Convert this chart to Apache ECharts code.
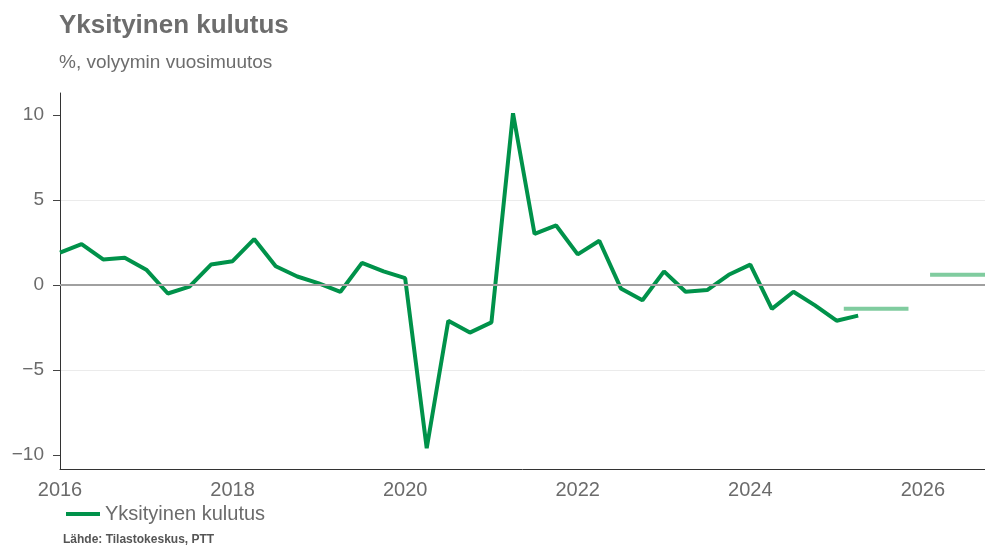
<!DOCTYPE html>
<html>
<head>
<meta charset="utf-8">
<script src="https://cdn.jsdelivr.net/npm/echarts@6/dist/echarts.min.js"></script>
<style>
  html, body { margin: 0; padding: 0; background: #fff; }
  #chart { width: 985px; height: 550px; }
</style>
</head>
<body>
<div id="chart"></div>
<script>
// neljännekset 2016Q1 - 2025Q2
const quarters = [
  '2016Q1', '2016Q2', '2016Q3', '2016Q4',
  '2017Q1', '2017Q2', '2017Q3', '2017Q4',
  '2018Q1', '2018Q2', '2018Q3', '2018Q4',
  '2019Q1', '2019Q2', '2019Q3', '2019Q4',
  '2020Q1', '2020Q2', '2020Q3', '2020Q4',
  '2021Q1', '2021Q2', '2021Q3', '2021Q4',
  '2022Q1', '2022Q2', '2022Q3', '2022Q4',
  '2023Q1', '2023Q2', '2023Q3', '2023Q4',
  '2024Q1', '2024Q2', '2024Q3', '2024Q4',
  '2025Q1', '2025Q2',
];
const consumption = [
  1.9, 2.4, 1.5, 1.6,
  0.9, -0.5, -0.1, 1.2,
  1.4, 2.7, 1.1, 0.5,
  0.1, -0.4, 1.3, 0.8,
  0.4, -9.6, -2.1, -2.8,
  -2.2, 10.1, 3.0, 3.5,
  1.8, 2.6, -0.2, -0.9,
  0.8, -0.4, -0.3, 0.6,
  1.2, -1.4, -0.4, -1.2,
  -2.1, -1.8,
];
// ennusteet (vuositaso)
const forecastStart = ['2025-02', '2026-02'];
const forecastEnd = ['2025-11', '2026-11'];
const forecastValues = [-1.4, 0.6];

const xTicks = [2016, 2018, 2020, 2022, 2024, 2026];
const yTicks = [-10, -5, 0, 5, 10];

const FONT = 'Liberation Sans, Arial, sans-serif';

function quarterToYear(q) {
  return Number(q.slice(0, 4)) + (Number(q.slice(5)) - 1) / 4;
}
function monthToYear(m) {
  return Number(m.slice(0, 4)) + (Number(m.slice(5)) - 1) / 12;
}

const mainData = quarters.map((q, i) => [quarterToYear(q), consumption[i]]);
const forecastData = [];
forecastValues.forEach((v, i) => {
  forecastData.push([monthToYear(forecastStart[i]), v]);
  forecastData.push([monthToYear(forecastEnd[i]), v]);
  forecastData.push([monthToYear(forecastEnd[i]), null]);
});

const chart = echarts.init(document.getElementById('chart'));
chart.setOption({
  animation: false,
  textStyle: { fontFamily: FONT },
  title: {
    text: 'Yksityinen kulutus',
    subtext: '%, volyymin vuosimuutos',
    left: 59,
    top: 13,
    padding: 0,
    itemGap: 14,
    textStyle: { fontSize: 26, fontWeight: 'bold', color: '#6d6d6d', fontFamily: FONT, lineHeight: 26 },
    subtextStyle: { fontSize: 19, color: '#6d6d6d', fontFamily: FONT, lineHeight: 19 },
  },
  legend: {
    data: ['Yksityinen kulutus'],
    left: 66,
    top: 504,
    padding: 0,
    icon: 'rect',
    itemWidth: 34,
    itemHeight: 4,
    textStyle: { fontSize: 20, color: '#6b6b6b', fontFamily: FONT },
  },
  graphic: [{
    type: 'text',
    left: 63,
    top: 534,
    style: {
      text: 'Lähde: Tilastokeskus, PTT',
      font: 'bold 12px ' + FONT,
      fill: '#555555',
    },
  }],
  grid: {
    left: 60,
    right: 0,
    top: 93,
    bottom: 81,
    containLabel: false,
  },
  xAxis: {
    type: 'value',
    min: 2016,
    max: 2026.72,
    interval: 2,
    axisLine: { show: true, onZero: false, lineStyle: { color: '#333', width: 1 } },
    axisTick: { show: false },
    splitLine: { show: false },
    axisLabel: {
      customValues: xTicks,
      formatter: (v) => String(v),
      fontSize: 20,
      color: '#6b6b6b',
      margin: 11,
      fontFamily: FONT,
    },
  },
  yAxis: {
    type: 'value',
    min: -10.82,
    max: 11.29,
    axisLine: { show: true, onZero: false, lineStyle: { color: '#333', width: 1 } },
    axisTick: { show: true, customValues: yTicks, length: 7, lineStyle: { color: '#444' } },
    splitLine: { show: true, showMinLine: false, showMaxLine: false, lineStyle: { color: '#ebebeb', width: 1 } },
    axisLabel: {
      customValues: yTicks,
      formatter: (v) => (v < 0 ? '\u2212' + Math.abs(v) : String(v)),
      fontSize: 19,
      color: '#6b6b6b',
      margin: 16,
      fontFamily: FONT,
    },
  },
  series: [{
    name: 'Ennuste',
    type: 'line',
    data: forecastData,
    connectNulls: false,
    showSymbol: false,
    symbol: 'none',
    z: 1,
    lineStyle: { color: '#80cc9f', width: 4 },
    itemStyle: { color: '#80cc9f' },
    markLine: {
      silent: true,
      symbol: 'none',
      label: { show: false },
      lineStyle: { color: '#a0a0a0', width: 2, type: 'solid' },
      data: [{ yAxis: 0 }],
    },
  }, {
    name: 'Yksityinen kulutus',
    type: 'line',
    data: mainData,
    showSymbol: false,
    symbol: 'none',
    z: 3,
    lineStyle: { color: '#00924a', width: 4 },
    itemStyle: { color: '#00924a' },
  }],
});
</script>
</body>
</html>
